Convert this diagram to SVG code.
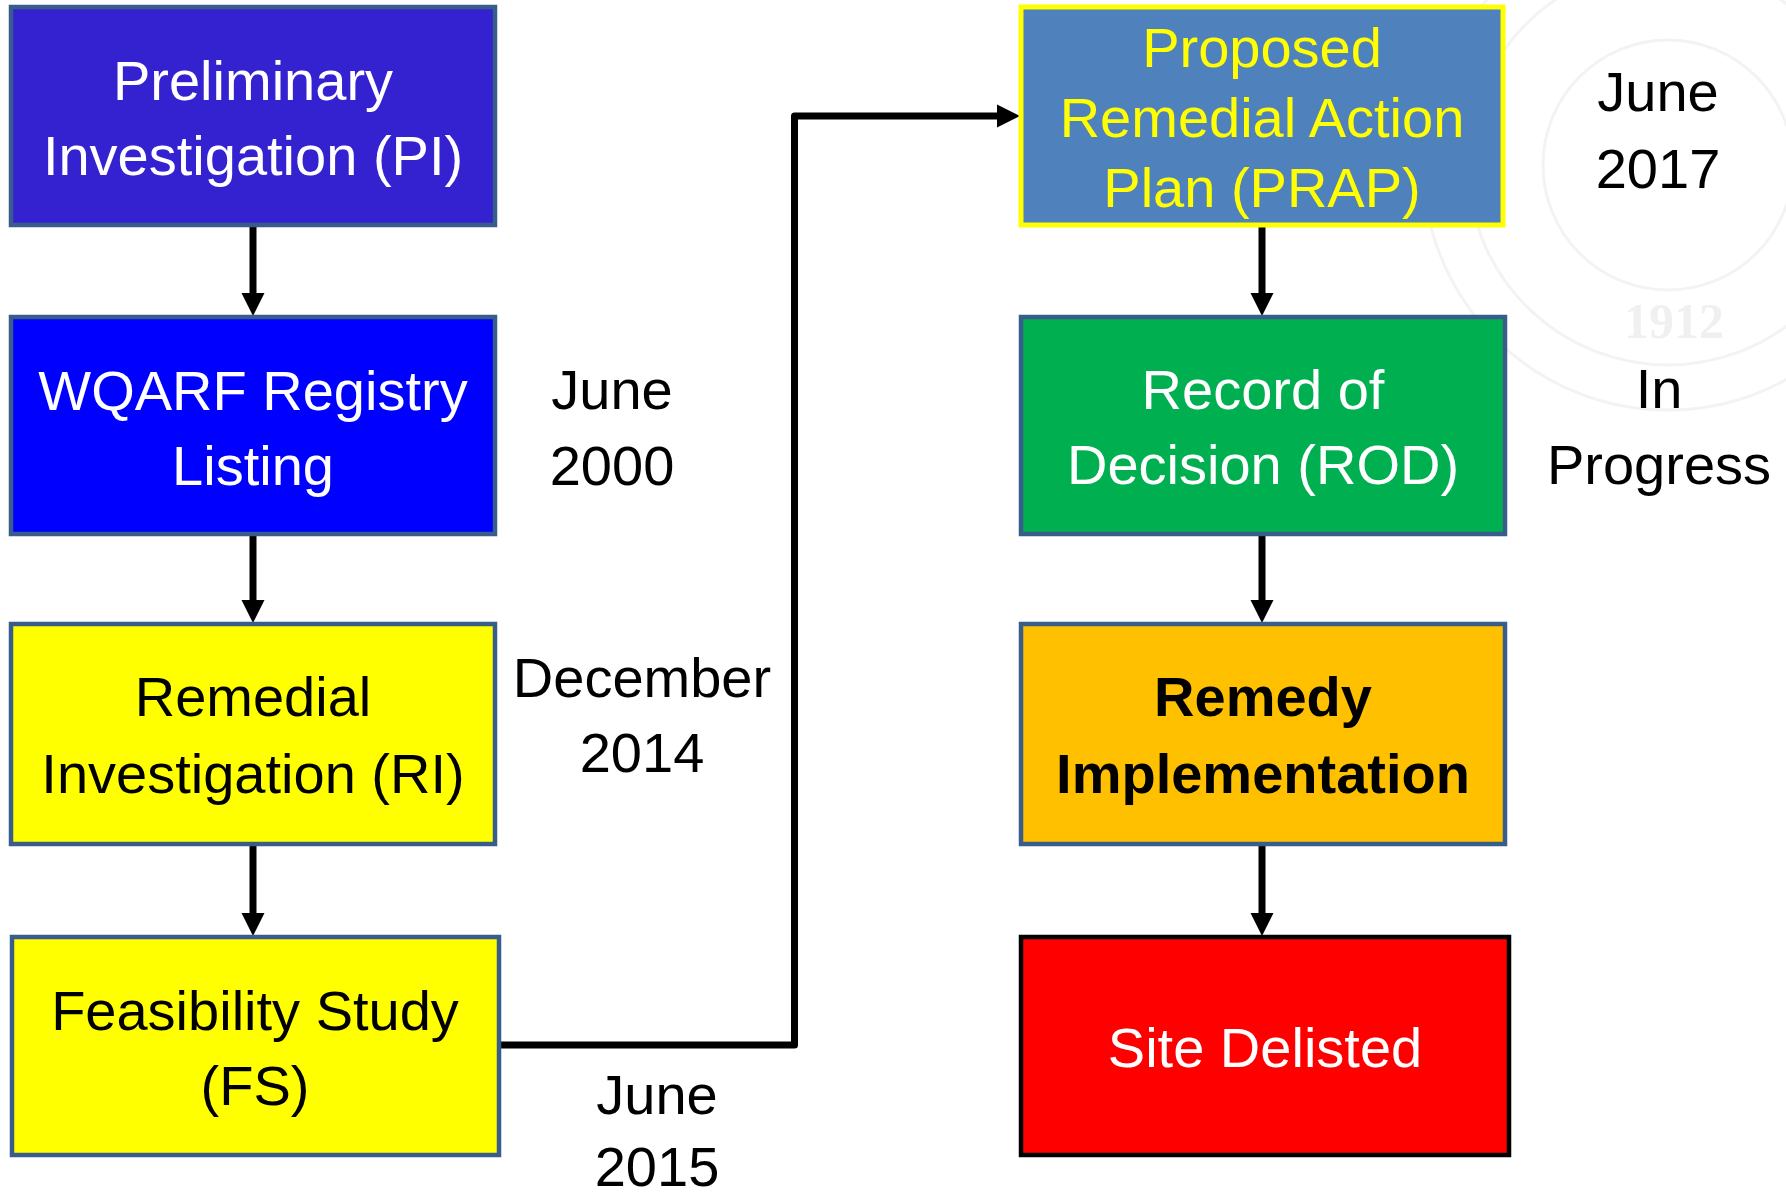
<svg xmlns="http://www.w3.org/2000/svg" width="1786" height="1195" viewBox="0 0 1786 1195">
<style>
.box{stroke:#385D8A;stroke-width:4.5}
.t{font-family:"Liberation Sans",Arial,sans-serif;font-size:56px;text-anchor:middle}
.w{fill:#FFFFFF}
.k{fill:#000000}
.y{fill:#FFFF00}
.b{font-weight:bold}
.conn{fill:none;stroke:#000;stroke-width:7;stroke-linejoin:round}
.wm{fill:none;stroke:#F3F3F3;stroke-width:3}
</style>
<defs>
<marker id="ah" markerUnits="userSpaceOnUse" markerWidth="24" markerHeight="24" viewBox="0 0 24 24" refX="3" refY="12" orient="auto">
<path d="M0,0.5 L23,12 L0,23.5 Z" fill="#000"/>
</marker>
</defs>
<rect width="1786" height="1195" fill="#FFFFFF"/>
<g id="watermark">
<circle class="wm" cx="1668" cy="165" r="245"/>
<circle class="wm" cx="1668" cy="165" r="200"/>
<circle class="wm" cx="1668" cy="165" r="125"/>
<text x="1674" y="338" font-family="Liberation Serif,serif" font-weight="bold" font-size="50" text-anchor="middle" fill="#F0F0F0">1912</text>
</g>
<g id="connectors">
<line class="conn" x1="253" y1="227" x2="253" y2="296" marker-end="url(#ah)"/>
<line class="conn" x1="253" y1="536" x2="253" y2="603" marker-end="url(#ah)"/>
<line class="conn" x1="253" y1="846" x2="253" y2="916" marker-end="url(#ah)"/>
<path class="conn" d="M499,1045 H794.5 V116 H1000" marker-end="url(#ah)"/>
<line class="conn" x1="1262" y1="227" x2="1262" y2="296" marker-end="url(#ah)"/>
<line class="conn" x1="1262" y1="536" x2="1262" y2="603" marker-end="url(#ah)"/>
<line class="conn" x1="1262" y1="846" x2="1262" y2="916" marker-end="url(#ah)"/>
</g>
<g id="pi">
<rect class="box" x="11" y="7" width="484" height="218" fill="#3421D0"/>
<text class="t w" x="253" y="100">Preliminary</text>
<text class="t w" x="253" y="175">Investigation (PI)</text>
</g>
<g id="wqarf">
<rect class="box" x="11" y="317" width="484" height="217" fill="#0000FF"/>
<text class="t w" x="253" y="410">WQARF Registry</text>
<text class="t w" x="253" y="485">Listing</text>
</g>
<g id="ri">
<rect class="box" x="11" y="624" width="484" height="220" fill="#FFFF00"/>
<text class="t k" x="253" y="716">Remedial</text>
<text class="t k" x="253" y="793">Investigation (RI)</text>
</g>
<g id="fs">
<rect class="box" x="12" y="937" width="487" height="218" fill="#FFFF00"/>
<text class="t k" x="255" y="1030">Feasibility Study</text>
<text class="t k" x="255" y="1105">(FS)</text>
</g>
<g id="prap">
<rect x="1021" y="7" width="482" height="218" fill="#4F81BD" stroke="#FFFF00" stroke-width="5"/>
<text class="t y" x="1262" y="67" font-size="52">Proposed</text>
<text class="t y" x="1262" y="137" font-size="52">Remedial Action</text>
<text class="t y" x="1262" y="207" font-size="52">Plan (PRAP)</text>
</g>
<g id="rod">
<rect class="box" x="1021" y="317" width="484" height="217" fill="#00B050"/>
<text class="t w" x="1263" y="409">Record of</text>
<text class="t w" x="1263" y="484">Decision (ROD)</text>
</g>
<g id="remedy">
<rect class="box" x="1021" y="624" width="484" height="220" fill="#FFC000"/>
<text class="t k b" x="1263" y="716">Remedy</text>
<text class="t k b" x="1263" y="793">Implementation</text>
</g>
<g id="delisted">
<rect x="1021" y="937" width="488" height="218" fill="#FF0000" stroke="#000" stroke-width="4.5"/>
<text class="t w" x="1265" y="1067">Site Delisted</text>
</g>
<g id="dates">
<text class="t k" x="612" y="409">June</text>
<text class="t k" x="612" y="485">2000</text>
<text class="t k" x="642" y="697">December</text>
<text class="t k" x="642" y="772">2014</text>
<text class="t k" x="657" y="1114">June</text>
<text class="t k" x="657" y="1186">2015</text>
<text class="t k" x="1658" y="111">June</text>
<text class="t k" x="1658" y="188">2017</text>
<text class="t k" x="1659" y="408">In</text>
<text class="t k" x="1659" y="484">Progress</text>
</g>
</svg>
